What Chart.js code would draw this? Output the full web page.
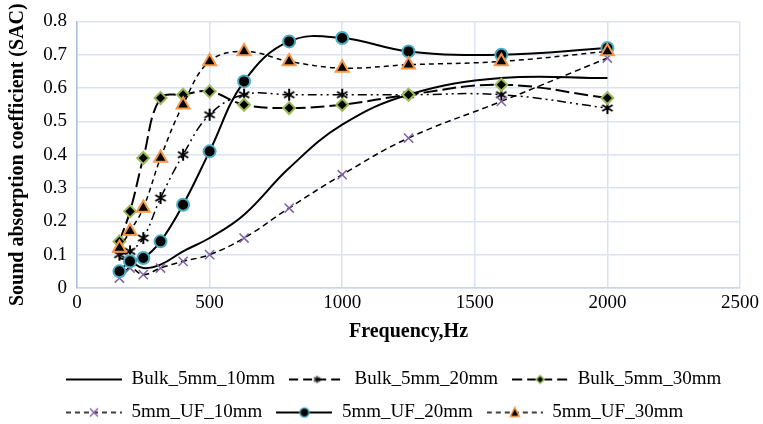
<!DOCTYPE html>
<html>
<head>
<meta charset="utf-8">
<title>Sound absorption coefficient</title>
<script src="https://cdn.jsdelivr.net/npm/chart.js@4.4.1/dist/chart.umd.min.js"></script>
<style>
    html, body { margin: 0; padding: 0; background: #ffffff; }
    #chart-box { width: 763px; height: 424px; }
</style>
</head>
<body>
<div id="chart-box"><canvas id="sac-chart" width="763" height="424"></canvas></div>
<script>
// ============================================
// Data
// ============================================

const frequencies = [160, 200, 250, 315, 400, 500, 630, 800, 1000, 1250, 1600, 2000]; // Hz

const seriesNames = ['Bulk_5mm_10mm', 'Bulk_5mm_20mm', 'Bulk_5mm_30mm', '5mm_UF_10mm', '5mm_UF_20mm', '5mm_UF_30mm'];

const bulk10 = [0.09, 0.08, 0.06, 0.07, 0.11, 0.15, 0.22, 0.36, 0.49, 0.58, 0.63, 0.63];
const bulk20 = [0.10, 0.11, 0.15, 0.27, 0.40, 0.52, 0.58, 0.58, 0.58, 0.58, 0.58, 0.54];
const bulk30 = [0.14, 0.23, 0.39, 0.57, 0.58, 0.59, 0.55, 0.54, 0.55, 0.58, 0.61, 0.57];
const uf10   = [0.03, 0.06, 0.04, 0.06, 0.08, 0.10, 0.15, 0.24, 0.34, 0.45, 0.56, 0.69];
const uf20   = [0.05, 0.08, 0.09, 0.14, 0.25, 0.41, 0.62, 0.74, 0.75, 0.71, 0.70, 0.72];
const uf30   = [0.12, 0.17, 0.24, 0.39, 0.55, 0.68, 0.71, 0.68, 0.66, 0.67, 0.68, 0.71];

const xTicks = [0, 500, 1000, 1500, 2000, 2500];
const yTicks = [0, 0.1, 0.2, 0.3, 0.4, 0.5, 0.6, 0.7, 0.8];

// ============================================
// Styles
// ============================================

const FONT = "'Liberation Serif', 'Times New Roman', serif";
const GREEN = '#9bbb59';
const PURPLE = '#8064a2';
const AQUA = '#4bacc6';
const ORANGE = '#f79646';

// Pair each frequency with its value for the linear x axis
function toPoints(values) {
    return frequencies.map((f, i) => ({ x: f, y: values[i] }));
}

// Six-armed asterisk used as the Bulk_5mm_20mm marker
function makeAsterisk(size, lineWidth) {
    const c = document.createElement('canvas');
    c.width = size; c.height = size;
    const ctx = c.getContext('2d');
    const r = size / 2 - 1;
    ctx.strokeStyle = '#000';
    ctx.lineWidth = lineWidth;
    [90, 30, 150].forEach(deg => {
        const a = deg * Math.PI / 180;
        ctx.beginPath();
        ctx.moveTo(size / 2 - r * Math.cos(a), size / 2 - r * Math.sin(a));
        ctx.lineTo(size / 2 + r * Math.cos(a), size / 2 + r * Math.sin(a));
        ctx.stroke();
    });
    return c;
}

// Small legend sample: a dashed line with the series marker in its middle
function makeLegendSample(dash, lineWidth, drawMarker) {
    const c = document.createElement('canvas');
    c.width = 56; c.height = 14;
    const ctx = c.getContext('2d');
    ctx.strokeStyle = '#000';
    ctx.lineWidth = lineWidth;
    ctx.setLineDash(dash);
    ctx.beginPath();
    ctx.moveTo(0, 7);
    ctx.lineTo(56, 7);
    ctx.stroke();
    ctx.setLineDash([]);
    if (drawMarker) drawMarker(ctx, 28, 7);
    return c;
}

const dashes = {
    bulk10: [],
    bulk20: [9, 4, 2, 4, 2, 4],
    bulk30: [14, 5],
    uf10: [6, 4],
    uf20: [],
    uf30: [5, 4]
};

const legendSamples = [
    makeLegendSample(dashes.bulk10, 2, null),
    makeLegendSample([9, 5], 2, (ctx, x, y) => ctx.drawImage(makeAsterisk(9, 1.5), x - 4.5, y - 4.5)),
    makeLegendSample([10, 5], 2, (ctx, x, y) => {
        ctx.fillStyle = '#000'; ctx.strokeStyle = GREEN; ctx.lineWidth = 1.5;
        ctx.beginPath();
        ctx.moveTo(x, y - 4); ctx.lineTo(x + 4, y); ctx.lineTo(x, y + 4); ctx.lineTo(x - 4, y);
        ctx.closePath(); ctx.fill(); ctx.stroke();
    }),
    makeLegendSample([5, 4], 1.5, (ctx, x, y) => {
        ctx.strokeStyle = PURPLE; ctx.lineWidth = 1.5;
        ctx.beginPath();
        ctx.moveTo(x - 4, y - 4); ctx.lineTo(x + 4, y + 4);
        ctx.moveTo(x + 4, y - 4); ctx.lineTo(x - 4, y + 4);
        ctx.stroke();
    }),
    makeLegendSample([], 2, (ctx, x, y) => {
        ctx.fillStyle = '#000'; ctx.strokeStyle = AQUA; ctx.lineWidth = 1.5;
        ctx.beginPath(); ctx.arc(x, y, 4.5, 0, Math.PI * 2); ctx.fill(); ctx.stroke();
    }),
    makeLegendSample([5, 4], 1.5, (ctx, x, y) => {
        ctx.fillStyle = '#000'; ctx.strokeStyle = ORANGE; ctx.lineWidth = 1.5;
        ctx.beginPath();
        ctx.moveTo(x, y - 5); ctx.lineTo(x + 4.5, y + 4); ctx.lineTo(x - 4.5, y + 4);
        ctx.closePath(); ctx.fill(); ctx.stroke();
    })
];

// ============================================
// Chart
// ============================================

const datasets = [
    {
        label: seriesNames[0], data: toPoints(bulk10),
        borderColor: '#000', borderWidth: 2, borderDash: dashes.bulk10,
        pointRadius: 0
    },
    {
        label: seriesNames[1], data: toPoints(bulk20),
        borderColor: '#000', borderWidth: 1.5, borderDash: dashes.bulk20,
        pointStyle: makeAsterisk(14, 2), pointRadius: 7
    },
    {
        label: seriesNames[2], data: toPoints(bulk30),
        borderColor: '#000', borderWidth: 2, borderDash: dashes.bulk30,
        pointStyle: 'rectRot', pointRadius: 6, pointBackgroundColor: '#000',
        pointBorderColor: GREEN, pointBorderWidth: 2
    },
    {
        label: seriesNames[3], data: toPoints(uf10),
        borderColor: '#000', borderWidth: 1.5, borderDash: dashes.uf10,
        pointStyle: 'crossRot', pointRadius: 6.5,
        pointBorderColor: PURPLE, pointBorderWidth: 1.5
    },
    {
        label: seriesNames[4], data: toPoints(uf20),
        borderColor: '#000', borderWidth: 2, borderDash: dashes.uf20,
        pointStyle: 'circle', pointRadius: 6, pointBackgroundColor: '#000',
        pointBorderColor: AQUA, pointBorderWidth: 2
    },
    {
        label: seriesNames[5], data: toPoints(uf30),
        borderColor: '#000', borderWidth: 1.5, borderDash: dashes.uf30,
        pointStyle: 'triangle', pointRadius: 7.5, pointBackgroundColor: '#000',
        pointBorderColor: ORANGE, pointBorderWidth: 2
    }
].map((ds, i) => Object.assign(ds, {
    tension: 0.4,
    fill: false,
    order: seriesNames.length - i // later series drawn on top
}));

Chart.defaults.font.family = FONT;
Chart.defaults.color = '#000';

const tickFont = { family: FONT, size: 19 };
const titleFont = { family: FONT, size: 20, weight: 'bold' };

// Moves the legend block so both rows start under the left part of the plot
const legendIndent = {
    id: 'legendIndent',
    afterLayout(chart) {
        if (chart.legend) chart.legend.left += 52;
    }
};

new Chart(document.getElementById('sac-chart'), {
    type: 'line',
    data: { datasets: datasets },
    plugins: [legendIndent],
    options: {
        responsive: false,
        animation: false,
        layout: { padding: { top: 20, right: 22, left: 0, bottom: -8 } },
        scales: {
            x: {
                type: 'linear', min: 0, max: 2500,
                afterBuildTicks: scale => { scale.ticks = xTicks.map(v => ({ value: v })); },
                afterFit: scale => { scale.height = 68; },
                ticks: { font: tickFont, padding: 4, callback: v => String(v) },
                grid: { color: '#d9e3f2', lineWidth: 1.5, drawTicks: false },
                border: { color: '#c5d6ee', width: 1.5 },
                title: {
                    display: true, text: 'Frequency,Hz',
                    font: titleFont,
                    padding: { top: 0, bottom: 12 }
                }
            },
            y: {
                min: 0, max: 0.8,
                afterBuildTicks: scale => { scale.ticks = yTicks.map(v => ({ value: v })); },
                afterFit: scale => { scale.width = 77; },
                ticks: {
                    font: tickFont, padding: 10,
                    callback: v => v === 0 ? '0' : v.toFixed(1)
                },
                grid: { color: '#d9e3f2', lineWidth: 1.5, drawTicks: false },
                border: { color: '#a9c2e3', width: 1.5 },
                title: {
                    display: true, text: 'Sound absorption coefficient (SAC)',
                    font: titleFont,
                    padding: { top: 6, bottom: 4 }
                }
            }
        },
        plugins: {
            tooltip: { enabled: false },
            legend: {
                position: 'bottom',
                align: 'start',
                labels: {
                    usePointStyle: true,
                    pointStyleWidth: 56,
                    padding: 14,
                    font: { family: FONT, size: 19 },
                    color: '#000',
                    // keep the series order and show line + marker samples
                    generateLabels: chart => {
                        const items = Chart.defaults.plugins.legend.labels.generateLabels(chart);
                        items.sort((a, b) => a.datasetIndex - b.datasetIndex);
                        items.forEach(item => {
                            item.pointStyle = legendSamples[item.datasetIndex];
                            item.rotation = 0;
                        });
                        return items;
                    }
                }
            }
        }
    }
});
</script>
</body>
</html>
